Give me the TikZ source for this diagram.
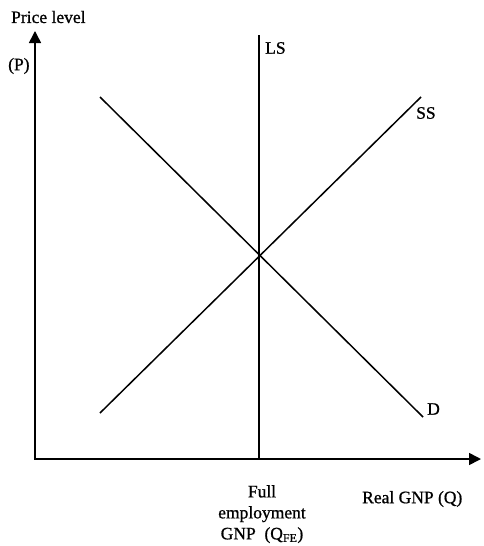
\documentclass[tikz,border=0pt]{standalone}
\usepackage{fontspec}
\setmainfont{Liberation Serif}[FakeBold=0.9]
\usetikzlibrary{arrows.meta, positioning}

\begin{document}
\begin{tikzpicture}[
    x=1pt, y=-1pt,
    axis/.style={-{Triangle[length=12pt, width=12pt]}, line width=1.6pt},
    curve/.style={line width=1.5pt},
    lbl/.style={font=\fontsize{17.5}{21}\selectfont, inner sep=0pt},
  ]
    \useasboundingbox (0,0) rectangle (483,546);

    \coordinate (origin) at (35,459);
    \coordinate (ytip) at (35,31);
    \coordinate (xtip) at (481,459);
    \coordinate (lstop) at (259,35);
    \coordinate (lsbot) at (259,459);
    \coordinate (ssbot) at (100,413);
    \coordinate (sstop) at (421,97);
    \coordinate (dtop) at (100,97);
    \coordinate (dbot) at (423,417);

    \draw[axis] (origin) -- (ytip);
    \draw[axis] ([xshift=-0.8pt]origin) -- (xtip);

    \draw[curve] (lsbot) -- (lstop);
    \draw[curve] (ssbot) -- (sstop);
    \draw[curve] (dtop) -- (dbot);

    \node[lbl, anchor=west] (plevel) at (11,17) {Price level};
    \node[lbl, anchor=west] (pvar) at (8,66) {(P)};
    \node[lbl, anchor=west] (lslbl) at (265,48) {LS};
    \node[lbl, anchor=west] (sslbl) at (416,113) {SS};
    \node[lbl, anchor=west] (dlbl) at (427,409) {D};
    \node[lbl, anchor=west] (xlbl) at (362,499) {Real GNP (Q)};
    \node[lbl, align=center, anchor=north] (qfe) at (262,485)
      {Full\\employment\\GNP\ \ (Q\textsubscript{\fontsize{12}{12}\selectfont FE})};
\end{tikzpicture}
\end{document}
